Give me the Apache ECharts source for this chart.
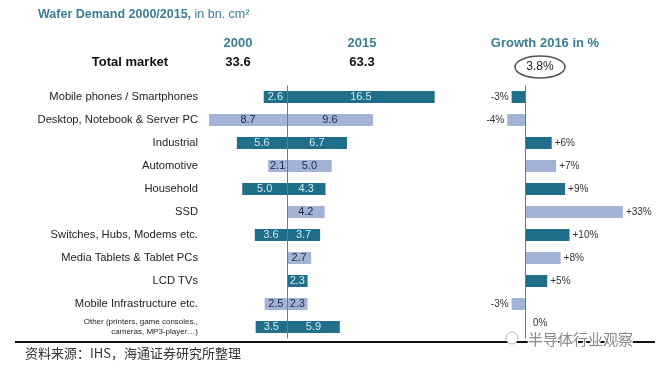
<!DOCTYPE html>
<html><head><meta charset="utf-8">
<script src="https://cdn.jsdelivr.net/npm/echarts@6/dist/echarts.min.js"></script>
<style>html,body{margin:0;padding:0;background:#fff}#c{width:665px;height:374px}</style>
</head><body><div id="c"></div>
<script>
const categories = ['Mobile phones / Smartphones','Desktop, Notebook & Server PC','Industrial','Automotive','Household','SSD','Switches, Hubs, Modems etc.','Media Tablets & Tablet PCs','LCD TVs','Mobile Infrastructure etc.','Other (printers, game consoles.,\ncameras, MP3-player…)'];
const demand2000 = [2.6, 8.7, 5.6, 2.1, 5.0, null, 3.6, null, null, 2.5, 3.5];
const demand2015 = [16.5, 9.6, 6.7, 5.0, 4.3, 4.2, 3.7, 2.7, 2.3, 2.3, 5.9];
const growth2016 = [-3, -4, 6, 7, 9, 33, 10, 8, 5, -3, null];
const totals = { y2000: 33.6, y2015: 63.3, growth: 3.8 };

const DARK = '#1f6f8b', LIGHT = '#a2b3d6';
const rowColor = i => (i % 2 === 0 ? DARK : LIGHT);
const rowText = i => (i % 2 === 0 ? '#d6e8ef' : '#1b2a4a');
const FONT = 'Liberation Sans, Arial, sans-serif';

const data2000 = demand2000.map((v, i) => v == null ? null : ({
  value: -v, itemStyle: { color: rowColor(i) }, label: { color: rowText(i) }
}));
const data2015 = demand2015.map((v, i) => v == null ? null : ({
  value: v, itemStyle: { color: rowColor(i) }, label: { color: rowText(i) }
}));
const dataGrowth = growth2016.map((v, i) => v == null ? null : ({
  value: v, itemStyle: { color: rowColor(i) },
  label: { position: v < 0 ? 'left' : 'right' }
}));

const chart = echarts.init(document.getElementById('c'), null, { renderer: 'canvas' });
const k = 8.95;
const gTop = 85.5, gH = 253;
chart.setOption({
  animation: false,
  backgroundColor: '#fff',
  textStyle: { fontFamily: FONT },
  grid: [
    { left: 287 - 9.5 * k, width: 27.5 * k, top: gTop, height: gH },
    { left: 525 - 6 * 4.45, width: 28 * 4.45, top: gTop, height: gH }
  ],
  xAxis: [
    { gridIndex: 0, type: 'value', min: -9.5, max: 18, show: false },
    { gridIndex: 1, type: 'value', min: -6, max: 22,
      axisLine: { show: false }, axisTick: { show: false }, splitLine: { show: false },
      axisLabel: { customValues: [0], formatter: '{value}%', align: 'left', margin: -20,
        padding: [0, 0, 0, 8], fontSize: 10, color: '#333', fontFamily: FONT } }
  ],
  yAxis: [
    { gridIndex: 0, type: 'category', data: categories, inverse: true,
      axisLine: { show: false }, axisTick: { show: false },
      axisLabel: { margin: 4, fontSize: 11.2, color: '#222', fontFamily: FONT,
        formatter: (v, i) => i === categories.length - 1 ? '{s|' + v.replace('\n', '}\n{s|') + '}' : v,
        rich: { s: { fontSize: 8, lineHeight: 10, color: '#222', align: 'right', fontFamily: FONT } } } },
    { gridIndex: 1, type: 'category', data: categories, inverse: true, show: false }
  ],
  series: [
    { type: 'bar', name: '2000', xAxisIndex: 0, yAxisIndex: 0, data: data2000,
      barWidth: 12, barGap: '-100%',
      label: { show: true, position: 'inside', fontSize: 11, fontFamily: FONT,
        formatter: p => Math.abs(p.value).toFixed(1) } },
    { type: 'bar', name: '2015', xAxisIndex: 0, yAxisIndex: 0, data: data2015,
      barWidth: 12, barGap: '-100%',
      label: { show: true, position: 'inside', fontSize: 11, fontFamily: FONT,
        formatter: p => p.value.toFixed(1) },
      markLine: { silent: true, symbol: 'none', z: 10, label: { show: false },
        lineStyle: { color: '#777', width: 1, type: 'solid' }, data: [{ xAxis: 0 }] } },
    { type: 'bar', name: 'Growth 2016', xAxisIndex: 1, yAxisIndex: 1, data: dataGrowth,
      barWidth: 12, clip: true,
      label: { show: true, fontSize: 10, color: '#333', distance: 3, fontFamily: FONT,
        formatter: p => (p.value > 0 ? '+' : '') + p.value + '%' },
      markLine: { silent: true, symbol: 'none', z: 10, label: { show: false },
        lineStyle: { color: '#777', width: 1, type: 'solid' }, data: [{ xAxis: 0 }] } }
  ],
  graphic: [
    { type: 'text', left: 38, top: 8, style: { rich: {
        b: { fontSize: 12.5, fontWeight: 'bold', fill: '#3a7d95', fontFamily: FONT },
        n: { fontSize: 12.5, fill: '#3a7d95', fontFamily: FONT } },
      text: '{b|Wafer Demand 2000/2015,}{n| in bn. cm²}' } },
    { type: 'text', x: 238, y: 43, style: { text: '2000', fontSize: 13, fontWeight: 'bold', fill: '#3a7d95', align: 'center', verticalAlign: 'middle', fontFamily: FONT } },
    { type: 'text', x: 362, y: 43, style: { text: '2015', fontSize: 13, fontWeight: 'bold', fill: '#3a7d95', align: 'center', verticalAlign: 'middle', fontFamily: FONT } },
    { type: 'text', x: 545, y: 43, style: { text: 'Growth 2016 in %', fontSize: 13, fontWeight: 'bold', fill: '#3a7d95', align: 'center', verticalAlign: 'middle', fontFamily: FONT } },
    { type: 'text', x: 130, y: 62, style: { text: 'Total market', fontSize: 13, fontWeight: 'bold', fill: '#111', align: 'center', verticalAlign: 'middle', fontFamily: FONT } },
    { type: 'text', x: 238, y: 62, style: { text: totals.y2000.toFixed(1), fontSize: 13, fontWeight: 'bold', fill: '#111', align: 'center', verticalAlign: 'middle', fontFamily: FONT } },
    { type: 'text', x: 362, y: 62, style: { text: totals.y2015.toFixed(1), fontSize: 13, fontWeight: 'bold', fill: '#111', align: 'center', verticalAlign: 'middle', fontFamily: FONT } },
    { type: 'ellipse', shape: { cx: 540, cy: 67, rx: 25, ry: 11 }, style: { fill: 'none', stroke: '#555', lineWidth: 1.5 } },
    { type: 'text', x: 540, y: 67, style: { text: totals.growth.toFixed(1) + '%', fontSize: 12, fill: '#222', align: 'center', verticalAlign: 'middle', fontFamily: FONT } },
    { type: 'line', shape: { x1: 15, y1: 342, x2: 655, y2: 342 }, style: { stroke: '#111', lineWidth: 2 } },
    { type: 'text', left: 25, top: 347, style: { text: '资料来源：IHS，海通证券研究所整理', fontSize: 13, fill: '#333', fontFamily: 'Noto Sans CJK SC' } },
    { type: 'circle', shape: { cx: 512, cy: 338, r: 6 }, style: { fill: '#fff', stroke: '#bbb', lineWidth: 1 }, z: 20 },
    { type: 'text', x: 528, y: 339, z: 20, style: { text: '半导体行业观察', fontSize: 15, fill: '#888', stroke: '#fff', lineWidth: 2, verticalAlign: 'middle', fontFamily: 'Noto Sans CJK SC' } }
  ]
});
</script></body></html>
